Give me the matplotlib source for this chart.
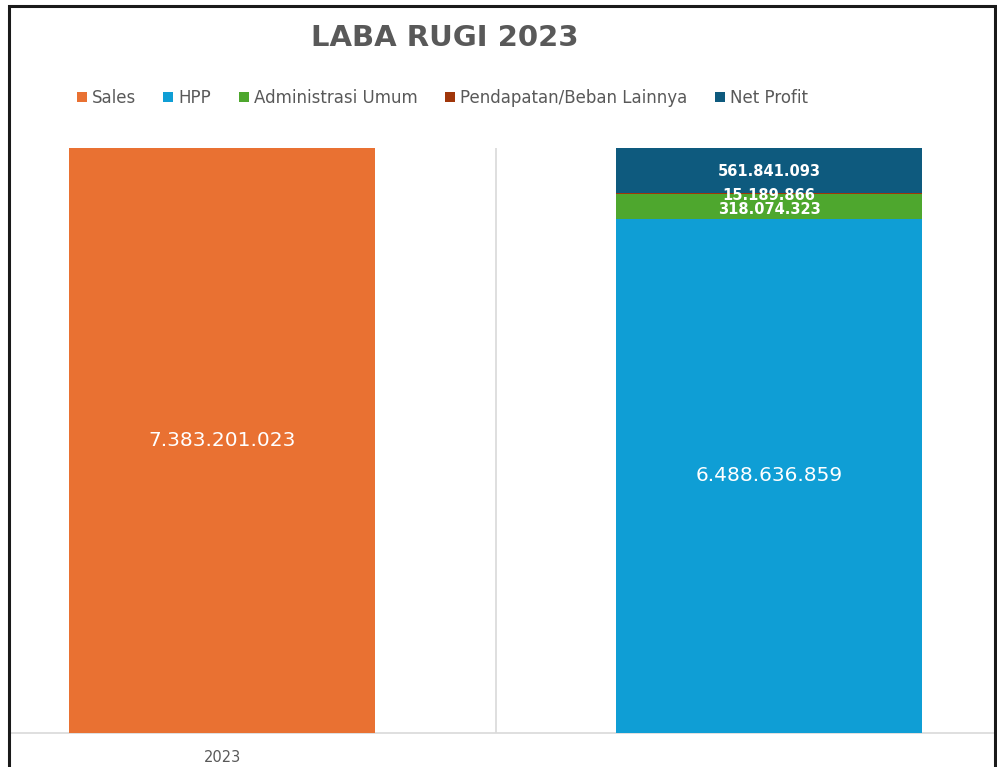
import matplotlib
matplotlib.use("Agg")
import matplotlib.pyplot as plt
from matplotlib.patches import Rectangle

# data
categories = ["2023", ""]
series = ["Sales", "HPP", "Administrasi Umum", "Pendapatan/Beban Lainnya", "Net Profit"]
sales = [7383201023, 0]
hpp = [0, 6488636859]
admin = [0, 318074323]
lain = [0, 15189866]
net_profit = [0, 561841093]
colors = ["#E97132", "#0F9ED5", "#4EA72E", "#A0360A", "#0E5A7E"]

def fmt(v):
    return f"{v:,.0f}".replace(",", ".")

W, H = 997, 767
fig = plt.figure(figsize=(W / 100, H / 100), dpi=100)
fig.patch.set_facecolor("white")

# frame around the chart
fig.add_artist(Rectangle((9 / W, -0.01), (995 - 9) / W, 1.01 - 6 / H,
                         transform=fig.transFigure, fill=False,
                         edgecolor="#1a1a1a", linewidth=2.2))

ax = fig.add_axes([10 / W, (H - 733) / H, (994 - 10) / W, (733 - 148) / H])
x = [0, 1]
width = 0.558
stack = [sales, hpp, admin, lain, net_profit]
bottom = [0, 0]
for name, vals, c in zip(series, stack, colors):
    ax.bar(x, vals, width, bottom=bottom, color=c, label=name, zorder=3)
    bottom = [bo + v for bo, v in zip(bottom, vals)]

total = max(bottom)
ax.set_ylim(0, total)
ax.set_xlim(-(222 - 10) / 547, 1 + (994 - 769) / 547)

# value labels
ax.text(0, sales[0] / 2, fmt(sales[0]), ha="center", va="center",
        color="white", fontsize=14.5)
ax.text(1, hpp[1] / 2, fmt(hpp[1]), ha="center", va="center",
        color="white", fontsize=14.5)
base = hpp[1]
ax.text(1, base + admin[1] / 2 - 45e6, fmt(admin[1]), ha="center", va="center",
        color="white", fontsize=10.5, fontweight="semibold")
base += admin[1]
ax.text(1, base + lain[1] / 2 - 25e6, fmt(lain[1]), ha="center", va="center",
        color="white", fontsize=10.5, fontweight="semibold")
base += lain[1]
ax.text(1, base + net_profit[1] / 2 - 20e6, fmt(net_profit[1]), ha="center", va="center",
        color="white", fontsize=10.5, fontweight="semibold")

# grid / axes styling
ax.axvline(0.5, color="#d9d9d9", linewidth=1.2, zorder=1)
for s in ["top", "right", "left"]:
    ax.spines[s].set_visible(False)
ax.spines["bottom"].set_color("#d9d9d9")
ax.spines["bottom"].set_linewidth(1.2)
ax.set_yticks([])
ax.set_xticks(x)
ax.set_xticklabels(categories, color="#595959", fontsize=10.5)
ax.tick_params(axis="x", length=0, pad=12)

fig.text(445 / W, 1 - 38 / H, "LABA RUGI 2023", ha="center", va="center",
         fontsize=21, fontweight="bold", color="#595959")

fig.legend(loc="center left", bbox_to_anchor=(70 / W, 1 - 98 / H), ncol=5,
           frameon=False, fontsize=12, labelcolor="#595959",
           handlelength=0.6, handleheight=0.6, handletextpad=0.3,
           columnspacing=1.65, borderaxespad=0)

fig.savefig("out.png", dpi=100, facecolor="white")
